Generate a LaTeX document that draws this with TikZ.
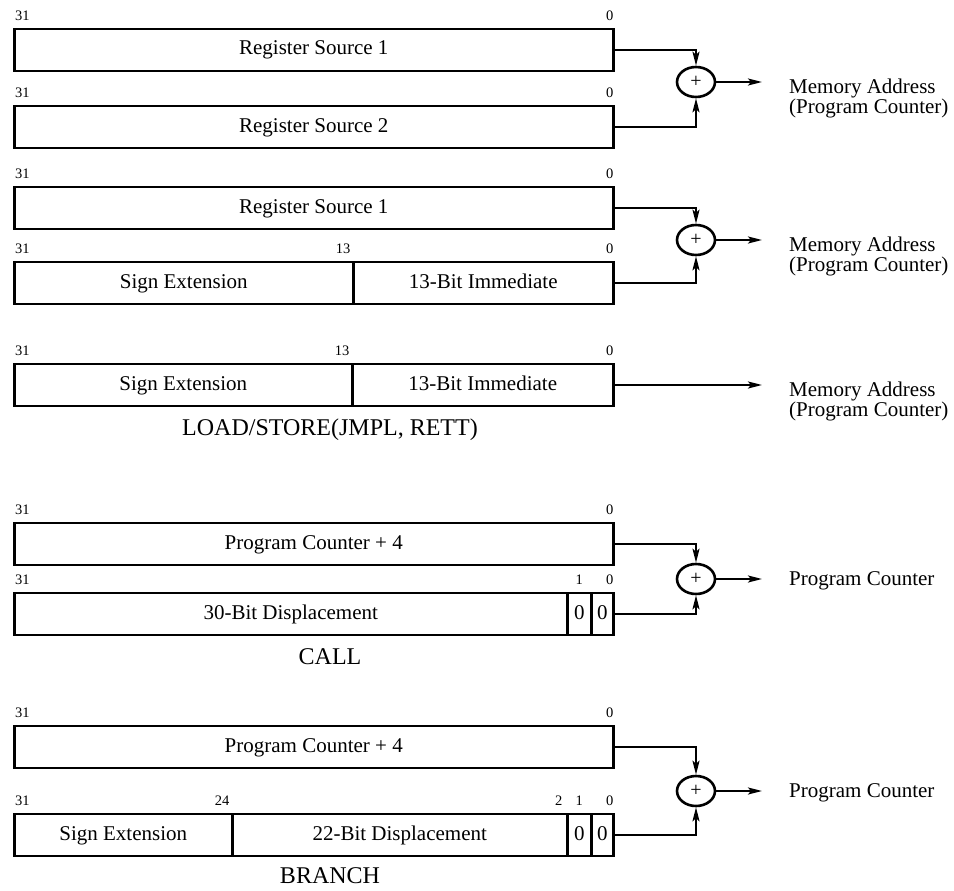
\documentclass[tikz,border=0pt]{standalone}
\usepackage{fontspec}
\setmainfont{Liberation Serif}
\usetikzlibrary{arrows.meta,shapes.geometric,calc}
\begin{document}
\begin{tikzpicture}[x=1pt,y=-1pt,
  cell/.style={draw, line width=2.5pt, minimum height=42pt, inner sep=0pt, anchor=west, text height=14pt, text depth=4pt, font=\fontsize{21}{21}\selectfont},
  bitlbl/.style={inner sep=0pt, font=\fontsize{14.5}{14.5}\selectfont},
  adder/.style={draw, ellipse, line width=2.6pt, minimum width=38pt, minimum height=30pt, inner sep=0pt, font=\fontsize{20}{20}\selectfont},
  wire/.style={line width=2pt, -{Stealth[length=14pt,width=7pt,inset=3pt]}},
  res/.style={inner sep=0pt, align=left, font=\fontsize{21}{17}\selectfont},
  captxt/.style={inner sep=0pt, font=\fontsize{24}{24}\selectfont}]
\useasboundingbox (0,0) rectangle (954,891);

% ---------- group 1 ----------
\node[cell, minimum width=599pt] (r1) at (13,50) {Register Source 1};
\node[cell, minimum width=599pt] (r2) at (13,127) {Register Source 2};
\node[bitlbl, anchor=base west] (l1a) at ([xshift=2pt,yshift=7pt]r1.north west) {31};
\node[bitlbl, anchor=base east] (l1b) at ([xshift=-1pt,yshift=7pt]r1.north east) {0};
\node[bitlbl, anchor=base west] (l2a) at ([xshift=2pt,yshift=7pt]r2.north west) {31};
\node[bitlbl, anchor=base east] (l2b) at ([xshift=-1pt,yshift=7pt]r2.north east) {0};
\node[adder] (a1) at (696,82) {+};
\coordinate (o1) at (762,82);
\draw[wire] (r1.east) -| (a1.north);
\draw[wire] (r2.east) -| (a1.south);
\draw[wire] (a1.east) -- (o1);
\node[res, anchor=north west] (t1) at (789,79) {Memory Address\\(Program Counter)};

% ---------- group 2 ----------
\node[cell, minimum width=599pt] (r3) at (13,208) {Register Source 1};
\node[cell, minimum width=339pt] (r4a) at (13,283) {Sign Extension};
\node[cell, minimum width=260pt] (r4b) at (352,283) {13-Bit Immediate};
\node[bitlbl, anchor=base west] (l3a) at ([xshift=2pt,yshift=7pt]r3.north west) {31};
\node[bitlbl, anchor=base east] (l3b) at ([xshift=-1pt,yshift=7pt]r3.north east) {0};
\node[bitlbl, anchor=base west] (l4a) at ([xshift=2pt,yshift=7pt]r4a.north west) {31};
\node[bitlbl, anchor=base east] (l4b) at ([xshift=-4pt,yshift=7pt]r4a.north east) {13};
\node[bitlbl, anchor=base east] (l4c) at ([xshift=-1pt,yshift=7pt]r4b.north east) {0};
\node[adder] (a2) at (696,240) {+};
\coordinate (o2) at (762,240);
\draw[wire] (r3.east) -| (a2.north);
\draw[wire] (r4b.east) -| (a2.south);
\draw[wire] (a2.east) -- (o2);
\node[res, anchor=north west] (t2) at (789,237) {Memory Address\\(Program Counter)};

% ---------- group 3 ----------
\node[cell, minimum width=338pt] (r5a) at (13,385) {Sign Extension};
\node[cell, minimum width=261pt] (r5b) at (351,385) {13-Bit Immediate};
\node[bitlbl, anchor=base west] (l5a) at ([xshift=2pt,yshift=7pt]r5a.north west) {31};
\node[bitlbl, anchor=base east] (l5b) at ([xshift=-4pt,yshift=7pt]r5a.north east) {13};
\node[bitlbl, anchor=base east] (l5c) at ([xshift=-1pt,yshift=7pt]r5b.north east) {0};
\coordinate (o3) at (762,385);
\draw[wire] (r5b.east) -- (o3);
\node[res, anchor=north west] (t3) at (789,382) {Memory Address\\(Program Counter)};
\node[captxt] (c1) at (330,430) {LOAD/STORE(JMPL, RETT)};

% ---------- group 4 ----------
\node[cell, minimum width=599pt] (r6) at (13,544) {Program Counter + 4};
\node[cell, minimum width=553pt] (r7a) at (13,614) {30-Bit Displacement};
\node[cell, minimum width=24pt] (r7b) at (566,614) {0};
\node[cell, minimum width=22pt] (r7c) at (590,614) {0};
\node[bitlbl, anchor=base west] (l6a) at ([xshift=2pt,yshift=7pt]r6.north west) {31};
\node[bitlbl, anchor=base east] (l6b) at ([xshift=-1pt,yshift=7pt]r6.north east) {0};
\node[bitlbl, anchor=base west] (l7a) at ([xshift=2pt,yshift=7pt]r7a.north west) {31};
\node[bitlbl, anchor=base] (l7b) at ([yshift=7pt]r7b.north) {1};
\node[bitlbl, anchor=base east] (l7c) at ([xshift=-1pt,yshift=7pt]r7c.north east) {0};
\node[adder] (a3) at (696,579) {+};
\coordinate (o4) at (762,579);
\draw[wire] (r6.east) -| (a3.north);
\draw[wire] (r7c.east) -| (a3.south);
\draw[wire] (a3.east) -- (o4);
\node[res, anchor=west] (t4) at (789,581) {Program Counter};
\node[captxt] (c2) at (330,657) {CALL};

% ---------- group 5 ----------
\node[cell, minimum width=599pt] (r8) at (13,747) {Program Counter + 4};
\node[cell, minimum width=218pt] (r9a) at (13,835) {Sign Extension};
\node[cell, minimum width=335pt] (r9b) at (231,835) {22-Bit Displacement};
\node[cell, minimum width=24pt] (r9c) at (566,835) {0};
\node[cell, minimum width=22pt] (r9d) at (590,835) {0};
\node[bitlbl, anchor=base west] (l8a) at ([xshift=2pt,yshift=7pt]r8.north west) {31};
\node[bitlbl, anchor=base east] (l8b) at ([xshift=-1pt,yshift=7pt]r8.north east) {0};
\node[bitlbl, anchor=base west] (l9a) at ([xshift=2pt,yshift=7pt]r9a.north west) {31};
\node[bitlbl, anchor=base east] (l9b) at ([xshift=-4pt,yshift=7pt]r9a.north east) {24};
\node[bitlbl, anchor=base east] (l9c) at ([xshift=-6pt,yshift=7pt]r9b.north east) {2};
\node[bitlbl, anchor=base] (l9d) at ([yshift=7pt]r9c.north) {1};
\node[bitlbl, anchor=base east] (l9e) at ([xshift=-1pt,yshift=7pt]r9d.north east) {0};
\node[adder] (a4) at (696,791) {+};
\coordinate (o5) at (762,791);
\draw[wire] (r8.east) -| (a4.north);
\draw[wire] (r9d.east) -| (a4.south);
\draw[wire] (a4.east) -- (o5);
\node[res, anchor=west] (t5) at (789,793) {Program Counter};
\node[captxt] (c3) at (330,876) {BRANCH};
\end{tikzpicture}
\end{document}
